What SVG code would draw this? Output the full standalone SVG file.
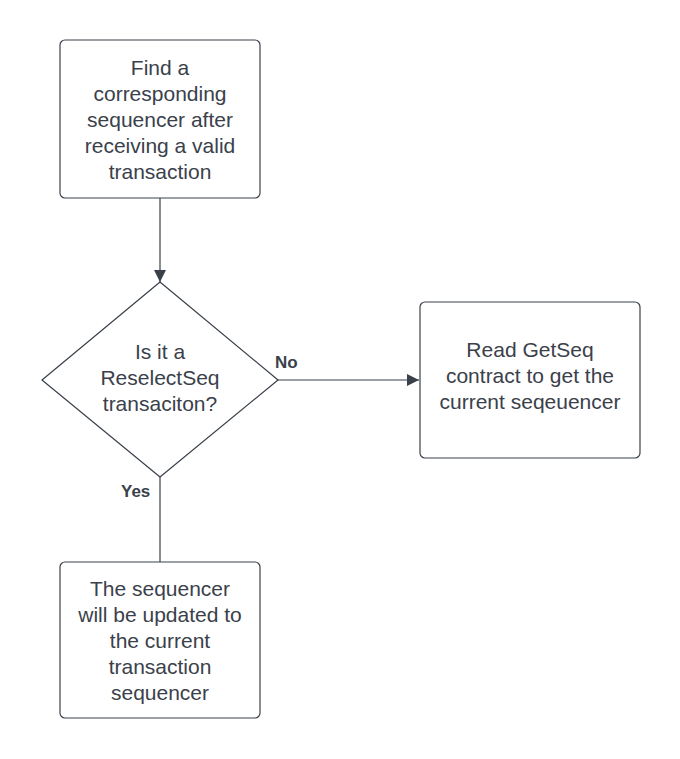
<svg xmlns="http://www.w3.org/2000/svg" width="680" height="759" viewBox="0 0 680 759">
<style>
.shape{fill:#ffffff;stroke:#3a414a;stroke-width:1.2}
.t{font-family:"Liberation Sans",Arial,sans-serif;font-size:21px;fill:#3a414a;text-anchor:middle}
.lbl{font-family:"Liberation Sans",Arial,sans-serif;font-size:17px;font-weight:bold;fill:#3a414a}
.edge{fill:none;stroke:#3a414a;stroke-width:1.2}
</style>
<defs>
<marker id="arr" viewBox="0 0 12 12" refX="12" refY="6" markerWidth="12" markerHeight="12" markerUnits="userSpaceOnUse" orient="auto">
<path d="M0,0 L12,6 L0,12 Z" fill="#3a414a"/>
</marker>
</defs>
<rect width="680" height="759" fill="#ffffff"/>
<g id="connectors">
<path class="edge" d="M160,198 L160,282" marker-end="url(#arr)"/>
<path class="edge" d="M278,380 L419,380" marker-end="url(#arr)"/>
<path class="edge" d="M160,477 L160,562"/>
<text class="lbl" x="275" y="368">No</text>
<text class="lbl" x="121" y="497">Yes</text>
</g>
<g id="node-find">
<rect class="shape" x="60" y="40" width="200" height="158" rx="5"/>
<text class="t" x="160" y="75">Find a</text>
<text class="t" x="160" y="101">corresponding</text>
<text class="t" x="160" y="127">sequencer after</text>
<text class="t" x="160" y="153">receiving a valid</text>
<text class="t" x="160" y="179">transaction</text>
</g>
<g id="node-decision">
<path class="shape" d="M160,282 L278,380 L160,477 L42,380 Z" stroke-linejoin="round"/>
<text class="t" x="160" y="359">Is it a</text>
<text class="t" x="160" y="385">ReselectSeq</text>
<text class="t" x="160" y="411">transaciton?</text>
</g>
<g id="node-read">
<rect class="shape" x="420" y="302" width="220" height="156" rx="5"/>
<text class="t" x="530" y="357">Read GetSeq</text>
<text class="t" x="530" y="383">contract to get the</text>
<text class="t" x="530" y="409">current seqeuencer</text>
</g>
<g id="node-update">
<rect class="shape" x="60" y="562" width="200" height="156" rx="5"/>
<text class="t" x="160" y="596">The sequencer</text>
<text class="t" x="160" y="622">will be updated to</text>
<text class="t" x="160" y="648">the current</text>
<text class="t" x="160" y="674">transaction</text>
<text class="t" x="160" y="700">sequencer</text>
</g>
</svg>
